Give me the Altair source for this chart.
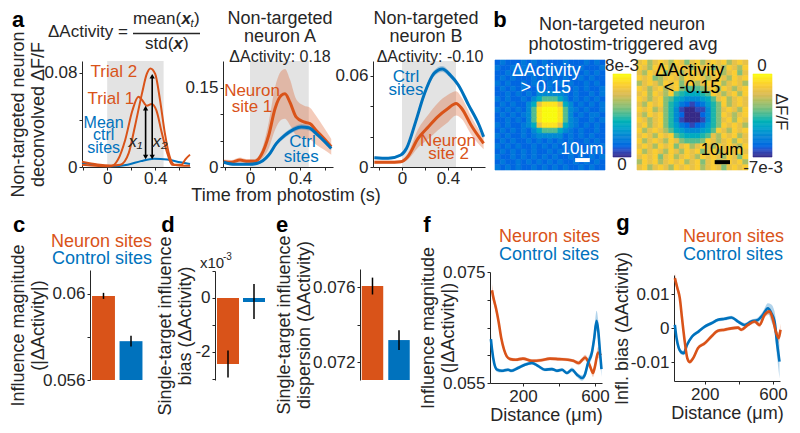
import altair as alt
import pandas as pd

FONT = "Liberation Sans"
ORANGE = "#D95319"
BLUE = "#0072BD"
INK = "#262626"
GREY = "#E3E3E3"
PARULA = ["#352a87", "#0363e1", "#1485d4", "#06a7c6", "#38b99e",
          "#92bf73", "#d9ba56", "#fcce2e", "#f9fb0e"]

# ============================== DATA ==============================
STIM_WINDOW = [0.0, 0.47]

# a (left): example neuron, two trials + mean of control sites
A1_TRIAL2_T = [-0.21, -0.08, 0.03, 0.11, 0.18, 0.23, 0.29, 0.33, 0.36, 0.40, 0.44, 0.48, 0.52, 0.56, 0.62, 0.65, 0.69]
A1_TRIAL2_V = [0.0044, 0.0021, 0.0013, 0.0020, 0.012, 0.034, 0.0625, 0.079, 0.0836, 0.079, 0.057, 0.029, 0.009, 0.002, 0.002, 0.0063, 0.0105]
A1_TRIAL1_T = [-0.21, 0.03, 0.09, 0.15, 0.21, 0.26, 0.29, 0.33, 0.37, 0.41, 0.455, 0.50, 0.54, 0.69]
A1_TRIAL1_V = [0.0020, 0.0006, 0.0063, 0.023, 0.048, 0.0597, 0.057, 0.052, 0.0535, 0.048, 0.029, 0.012, 0.002, 0.001]
A1_CTRL_T = [-0.21, -0.08, 0.03, 0.17, 0.28, 0.39, 0.50, 0.61, 0.69]
A1_CTRL_V = [0.0036, 0.0015, 0.0006, 0.0020, 0.0050, 0.0070, 0.0063, 0.0040, 0.0025]
A1_ARROW_T = [0.32, 0.375]
A1_ARROW_LO = [0.0085, 0.0085]
A1_ARROW_HI = [0.050, 0.077]
A1_ARROW_LABELS = ["x\u2081", "x\u2082"]

# a (middle): neuron A
A2_NEUR_T = [-0.21, -0.15, -0.08, -0.03, 0.04, 0.09, 0.15, 0.20, 0.25, 0.28, 0.32, 0.37, 0.43, 0.48, 0.53, 0.59, 0.65]
A2_NEUR_V = [0.010, 0.009, 0.013, 0.011, 0.011, 0.0225, 0.060, 0.110, 0.135, 0.138, 0.122, 0.094, 0.085, 0.082, 0.069, 0.054, 0.038]
A2_NEUR_E = [0.004, 0.004, 0.005, 0.004, 0.004, 0.008, 0.025, 0.040, 0.046, 0.047, 0.043, 0.034, 0.031, 0.030, 0.027, 0.021, 0.015]
A2_CTRL_T = [-0.21, -0.12, -0.01, 0.06, 0.15, 0.21, 0.28, 0.35, 0.41, 0.47, 0.53, 0.60, 0.65]
A2_CTRL_V = [0.009, 0.005, 0.005, 0.007, 0.0225, 0.044, 0.060, 0.071, 0.0757, 0.074, 0.063, 0.0475, 0.035]
A2_CTRL_E = [0.002, 0.002, 0.002, 0.002, 0.003, 0.004, 0.005, 0.005, 0.005, 0.005, 0.004, 0.004, 0.003]

# a (right): neuron B
A3_CTRL_T = [-0.24, -0.12, -0.01, 0.04, 0.12, 0.19, 0.28, 0.35, 0.42, 0.49, 0.58, 0.67, 0.71]
A3_CTRL_V = [0.0061, 0.0057, 0.0079, 0.0123, 0.030, 0.047, 0.0616, 0.0644, 0.0604, 0.0539, 0.0407, 0.0276, 0.0199]
A3_CTRL_E = [0.0008, 0.0008, 0.0008, 0.0010, 0.0015, 0.0018, 0.0020, 0.0020, 0.0018, 0.0016, 0.0014, 0.0012, 0.0010]
A3_NEUR_T = [-0.24, -0.12, -0.01, 0.05, 0.14, 0.23, 0.31, 0.40, 0.47, 0.52, 0.60, 0.71]
A3_NEUR_V = [0.0031, 0.0031, 0.0035, 0.0068, 0.0188, 0.0265, 0.033, 0.0385, 0.0418, 0.0385, 0.0276, 0.0156]
A3_NEUR_E = [0.0010, 0.0010, 0.0010, 0.0020, 0.0060, 0.0080, 0.0090, 0.0090, 0.0080, 0.0070, 0.0060, 0.0040]

# b: photostim-triggered average images (hex level 0-f of the colour range)
MAP1_RANGE = [0.0, 8e-3]
MAP1_ROWS = [
    "232223232322232223232", "322323222323223232223", "223232322232322323232",
    "232322232323232232322", "323223232232323223232", "232323223232232323223",
    "223232324444432322323", "323223246888642323232", "23232246ceeec64232323",
    "32323248efffe84323223", "23232348efffe84232332", "22323248efffe84322323",
    "32322346ceeec64323232", "232323246888643232232", "323223234444423232322",
    "232322323232323223232", "323232232323232322323", "232323232232323232232",
    "322323232323223232323", "232232323232322323232", "323232232323232232322",
]
MAP2_RANGE = [-7e-3, 0.0]
MAP2_ROWS = [
    "cdacdcadc9cdacdcdacdc", "dcadcdacdcadcd9cadcad", "cadcd9cdacdcadcdacd9c",
    "dcd9acdcadcdcacdcadcd", "acdcadcd9cdacdcdacdca", "dcacdacd98889cdadcacd",
    "cdadcad8766678dcacdad", "dcacd9865444568cdacdc", "cadcd97532123579dacdc",
    "dcdac97410011479cdcad", "cadcd97420002479dcacd", "dcacd97410001479cdadc",
    "cdacd97532123579dcdca", "dacdca865444568dcadcd", "cdcadcd8766678cadcdac",
    "dacdcadc98889dcacdadc", "cdcadcd9cdacdcadcdcad", "dacdcadcadcd9cdacdcdc",
    "cdcd9cdacdcadcdcadc9d", "adcdacdcdacd9cdacdcda", "cdacdcadcdcdacdc9cdcd",
]

# c, d, e: bar summaries
CATS = ["Neuron sites", "Control sites"]
C_MEAN = [0.0599, 0.0578]
C_ERR = [0.00014, 0.00025]
D_MEAN = [-2.45, -0.15]           # x1e-3
D_LO = [-2.95, -0.78]
D_HI = [-1.95, 0.52]
E_MEAN = [0.07605, 0.07317]
E_ERR = [0.00045, 0.00053]

# f: influence magnitude vs distance
F_NEUR_X = [28, 35, 50, 65, 80, 95, 110, 130, 160, 200, 250, 300, 350, 400, 450, 480, 510, 530, 545, 560, 575, 589, 600, 617, 633]
F_NEUR_V = [0.0717, 0.0705, 0.0685, 0.0660, 0.0630, 0.0610, 0.0598, 0.0593, 0.0592, 0.0594, 0.0590, 0.0591, 0.0594, 0.0593, 0.0592, 0.0590, 0.0586, 0.0592, 0.0596, 0.0590, 0.0578, 0.0568, 0.0580, 0.0605, 0.0600]
F_NEUR_E = [0.0012, 0.0010, 0.0008, 0.0006, 0.0005, 0.0004, 0.0003, 0.0003, 0.0003, 0.0003, 0.0003, 0.0003, 0.0003, 0.0003, 0.0003, 0.0003, 0.0004, 0.0004, 0.0005, 0.0005, 0.0006, 0.0007, 0.0008, 0.0010, 0.0012]
F_CTRL_X = [22, 28, 40, 56, 83, 117, 133, 172, 211, 250, 283, 322, 361, 389, 417, 444, 472, 500, 528, 544, 561, 583, 595, 609, 618, 628, 636]
F_CTRL_V = [0.0629, 0.0611, 0.0586, 0.0574, 0.0572, 0.0574, 0.0572, 0.0577, 0.0583, 0.0586, 0.0581, 0.0574, 0.0575, 0.0572, 0.0574, 0.0568, 0.0574, 0.0565, 0.0559, 0.0565, 0.0586, 0.0605, 0.0629, 0.0662, 0.0645, 0.0605, 0.0575]
F_CTRL_E = [0.0012, 0.0010, 0.0006, 0.0004, 0.0003, 0.0003, 0.0003, 0.0003, 0.0003, 0.0003, 0.0003, 0.0003, 0.0003, 0.0003, 0.0003, 0.0003, 0.0004, 0.0004, 0.0005, 0.0006, 0.0008, 0.0010, 0.0014, 0.0018, 0.0018, 0.0016, 0.0014]

# g: influence bias vs distance
G_NEUR_X = [25, 40, 54, 67, 83, 98, 112, 132, 161, 200, 239, 278, 317, 356, 395, 414, 453, 492, 521, 551, 580, 600, 619, 633, 644]
G_NEUR_V = [0.0148, 0.0118, 0.0089, 0.0030, -0.0039, -0.0088, -0.0099, -0.0088, -0.0058, -0.0044, -0.0024, -0.0007, -0.0004, 0.0000, 0.0002, -0.0004, 0.0010, 0.0020, 0.0010, 0.0040, 0.0050, 0.0025, -0.0014, -0.0029, -0.0004]
G_NEUR_E = [0.0015, 0.0012, 0.0010, 0.0008, 0.0007, 0.0006, 0.0006, 0.0005, 0.0005, 0.0005, 0.0005, 0.0005, 0.0005, 0.0005, 0.0005, 0.0005, 0.0006, 0.0006, 0.0007, 0.0008, 0.0010, 0.0012, 0.0014, 0.0016, 0.0018]
G_CTRL_X = [25, 35, 48, 62, 77, 96, 126, 165, 200, 239, 278, 317, 356, 395, 434, 473, 512, 541, 570, 590, 609, 625, 638]
G_CTRL_V = [0.0010, -0.0029, -0.0058, -0.0070, -0.0073, -0.0049, -0.0024, -0.0009, 0.0005, 0.0015, 0.0025, 0.0028, 0.0032, 0.0020, 0.0010, 0.0020, 0.0025, 0.0040, 0.0059, 0.0045, 0.0020, -0.0049, -0.0098]
G_CTRL_E = [0.0012, 0.0010, 0.0008, 0.0007, 0.0006, 0.0005, 0.0005, 0.0005, 0.0005, 0.0005, 0.0005, 0.0005, 0.0005, 0.0005, 0.0006, 0.0006, 0.0007, 0.0010, 0.0015, 0.0025, 0.0030, 0.0040, 0.0050]

# ============================== LAYOUT ==============================
M = 8                     # page margin
W, H = 800 - 2 * M, 433 - 2 * M


def rx(l, r):
    return [l - M, r - M]


def ry(top, bot):
    return [bot - M, top - M]


def qs(dom, rng):
    return alt.Scale(domain=dom, range=rng, nice=False, zero=False)


def lab_expr(shown):
    expr = "''"
    for v, s in shown.items():
        expr = f"abs(datum.value - ({v!r})) < 1e-9 ? '{s}' : ({expr})"
    return expr


AXIS_STYLE = dict(grid=False, domainColor=INK, domainWidth=1, tickColor=INK, tickSize=3,
                  tickWidth=1, labelColor=INK, labelFont=FONT, labelFontSize=17,
                  labelPadding=2, labelFlush=False, labelOverlap=False,
                  titleFont=FONT, titleFontSize=18, titleFontWeight="normal",
                  titleColor=INK)


def left_axis(xpx, values, shown, title=None, title_x=None):
    kw = dict(AXIS_STYLE, orient="left", offset=-(xpx - M), values=values,
              labelExpr=lab_expr(shown), title=title)
    if title_x is not None:
        kw["titleX"] = title_x
    return alt.Axis(**kw)


def bottom_axis(ypx, values, shown, title=None, pad=2):
    return alt.Axis(**dict(AXIS_STYLE, orient="bottom", offset=(ypx - M) - H, values=values,
                           labelExpr=lab_expr(shown), title=title, titlePadding=2,
                           labelPadding=pad))


class Frame:
    """x/y scales (and axes) of one panel; every layer of the panel uses the same ones."""

    def __init__(self, xs, ys, xa=None, ya=None):
        self.xs, self.ys, self.xa, self.ya = xs, ys, xa, ya

    def enc(self, xf, yf):
        return dict(x=alt.X(xf, type="quantitative", scale=self.xs, axis=self.xa),
                    y=alt.Y(yf, type="quantitative", scale=self.ys, axis=self.ya))


def shade(fr, ydom):
    df = pd.DataFrame({"x0": [STIM_WINDOW[0]], "x1": [STIM_WINDOW[1]],
                       "y0": [ydom[0]], "y1": [ydom[1]]})
    return alt.Chart(df).mark_rect(color=GREY).encode(**fr.enc("x0", "y0"), x2="x1", y2="y1")


def band(fr, t, v, e, color, op=0.3):
    df = pd.DataFrame({"t": t, "lo": [a - b for a, b in zip(v, e)],
                       "hi": [a + b for a, b in zip(v, e)]})
    return alt.Chart(df).mark_area(color=color, opacity=op, interpolate="monotone").encode(
        **fr.enc("t", "lo"), y2="hi")


def line(fr, t, v, color, width=2.0):
    df = pd.DataFrame({"t": t, "v": v})
    return alt.Chart(df).mark_line(color=color, strokeWidth=width, interpolate="monotone").encode(
        **fr.enc("t", "v"))


def label(fr, x, y, text, color, size=16, **mk):
    df = pd.DataFrame({"x": [x], "y": [y], "t": [text]})
    return alt.Chart(df).mark_text(color=color, fontSize=size, font=FONT, **mk).encode(
        **fr.enc("x", "y"), text="t:N")


TIME_TICKS = [-0.2, 0.0, 0.2, 0.4, 0.6]
TIME_SHOWN = {0.0: "0", 0.4: "0.4"}

# ---------------- panel a1
a1dom = [0.0, 0.09]
a1 = Frame(qs([-0.21, 0.69], rx(82, 190)), qs(a1dom, ry(61, 167)),
           bottom_axis(167, TIME_TICKS, TIME_SHOWN, pad=0),
           left_axis(82, [0, 0.04, 0.08], {0: "0", 0.08: "0.08"},
                     ["Non-targeted neuron", "deconvolved \u0394F/F"], -55))
arrow_df = pd.DataFrame({"t": A1_ARROW_T, "lo": A1_ARROW_LO, "hi": A1_ARROW_HI})
panel_a1 = alt.layer(
    shade(a1, a1dom),
    line(a1, A1_CTRL_T, A1_CTRL_V, BLUE, 2),
    line(a1, A1_TRIAL1_T, A1_TRIAL1_V, ORANGE, 2),
    line(a1, A1_TRIAL2_T, A1_TRIAL2_V, ORANGE, 2),
    alt.Chart(arrow_df).mark_rule(color="black", strokeWidth=1.6).encode(**a1.enc("t", "lo"), y2="hi"),
    alt.Chart(arrow_df).mark_point(shape="triangle-up", filled=True, color="black", size=28,
                                   opacity=1).encode(**a1.enc("t", "hi")),
    alt.Chart(arrow_df).mark_point(shape="triangle-down", filled=True, color="black", size=28,
                                   opacity=1).encode(**a1.enc("t", "lo")),
    label(a1, 0.055, 0.081, "Trial 2", ORANGE, 17),
    label(a1, 0.03, 0.058, "Trial 1", ORANGE, 17),
    label(a1, -0.03, 0.0375, "Mean", BLUE, 16),
    label(a1, -0.03, 0.027, "ctrl", BLUE, 16),
    label(a1, -0.03, 0.0165, "sites", BLUE, 16),
    label(a1, 0.235, 0.021, A1_ARROW_LABELS[0], INK, 17, fontStyle="italic"),
    label(a1, 0.44, 0.021, A1_ARROW_LABELS[1], INK, 17, fontStyle="italic"),
)

# ---------------- panel a2
a2dom = [0.0, 0.2]
a2 = Frame(qs([-0.216, 0.664], rx(223, 333)), qs(a2dom, ry(61, 167)),
           bottom_axis(167, TIME_TICKS, TIME_SHOWN, pad=0),
           left_axis(223, [0, 0.05, 0.1, 0.15], {0: "0", 0.15: "0.15"}))
panel_a2 = alt.layer(
    shade(a2, a2dom),
    band(a2, A2_NEUR_T, A2_NEUR_V, A2_NEUR_E, ORANGE, 0.3),
    band(a2, A2_CTRL_T, A2_CTRL_V, A2_CTRL_E, BLUE, 0.3),
    line(a2, A2_NEUR_T, A2_NEUR_V, ORANGE, 3),
    line(a2, A2_CTRL_T, A2_CTRL_V, BLUE, 3),
    label(a2, 0.016, 0.143, "Neuron", ORANGE, 17),
    label(a2, 0.016, 0.114, "site 1", ORANGE, 17),
    label(a2, 0.42, 0.047, "Ctrl", BLUE, 17),
    label(a2, 0.41, 0.019, "sites", BLUE, 17),
)

# ---------------- panel a3
a3dom = [0.0, 0.0697]
a3 = Frame(qs([-0.252, 0.722], rx(373, 485)), qs(a3dom, ry(61, 167)),
           bottom_axis(167, TIME_TICKS, TIME_SHOWN, pad=0),
           left_axis(373, [0, 0.02, 0.04, 0.06], {0: "0", 0.06: "0.06"}))
panel_a3 = alt.layer(
    shade(a3, a3dom),
    band(a3, A3_NEUR_T, A3_NEUR_V, A3_NEUR_E, ORANGE, 0.3),
    band(a3, A3_CTRL_T, A3_CTRL_V, A3_CTRL_E, BLUE, 0.3),
    line(a3, A3_NEUR_T, A3_NEUR_V, ORANGE, 3),
    line(a3, A3_CTRL_T, A3_CTRL_V, BLUE, 3),
    label(a3, 0.035, 0.0595, "Ctrl", BLUE, 17),
    label(a3, 0.035, 0.0505, "sites", BLUE, 17),
    label(a3, 0.40, 0.0170, "Neuron", ORANGE, 17),
    label(a3, 0.405, 0.0085, "site 2", ORANGE, 17),
)


# ---------------- panel b: images + colour bars
def grid_df(rows, rng):
    lo, hi = rng
    recs = []
    for r, row in enumerate(rows):
        for c, ch in enumerate(row):
            recs.append({"c0": c, "c1": c + 1, "r0": r, "r1": r + 1,
                         "v": lo + (hi - lo) * int(ch, 16) / 15})
    return pd.DataFrame(recs)


def image_panel(rows, rng, xpx, ypx, txt_color, lines_txt, txt_pos, bar_txt, bar_txt_pos, bar_pos):
    n = len(rows)
    fr = Frame(qs([0, n], rx(*xpx)), qs([0, n], [ypx[0] - M, ypx[1] - M]))
    cs = alt.Scale(domain=rng, range=PARULA)
    img = alt.Chart(grid_df(rows, rng)).mark_rect(strokeWidth=0.6).encode(
        **fr.enc("c0", "r0"), x2="c1", y2="r1",
        color=alt.Color("v:Q", scale=cs, legend=None),
        stroke=alt.Stroke("v:Q", scale=cs, legend=None))
    layers = [img]
    for t, (px, py) in zip(lines_txt, txt_pos):
        layers.append(label(fr, px, py, t, txt_color, 18))
    layers.append(label(fr, bar_txt_pos[0], bar_txt_pos[1], bar_txt, txt_color, 17))
    sb = pd.DataFrame({"x0": [bar_pos[0]], "x1": [bar_pos[1]], "y": [bar_pos[2]]})
    layers.append(alt.Chart(sb).mark_rule(color=txt_color, strokeWidth=4).encode(
        **fr.enc("x0", "y"), x2="x1"))
    return alt.layer(*layers)


def colorbar(rng, xpx, ypx):
    lo, hi = rng
    n = 64
    step = (hi - lo) / n
    df = pd.DataFrame({"v0": [lo + i * step for i in range(n)]})
    df["v1"] = df["v0"] + step
    df["vm"] = df["v0"] + step / 2
    df["x0"] = 0.0
    df["x1"] = 1.0
    fr = Frame(qs([0, 1], rx(*xpx)), qs(rng, ry(*ypx)))
    cs = alt.Scale(domain=rng, range=PARULA)
    return alt.Chart(df).mark_rect(strokeWidth=0.6).encode(
        **fr.enc("x0", "v0"), x2="x1", y2="v1",
        color=alt.Color("vm:Q", scale=cs, legend=None),
        stroke=alt.Stroke("vm:Q", scale=cs, legend=None))


panel_m1 = image_panel(MAP1_ROWS, MAP1_RANGE, (495, 605), (60, 170), "white",
                       ["\u0394Activity", "> 0.15"], [(9.8, 2.1), (9.7, 5.4)],
                       "10\u03bcm", (16.6, 16.9), (15.3, 18.1, 19.1))
panel_m2 = image_panel(MAP2_ROWS, MAP2_RANGE, (637, 748), (60, 170), "black",
                       ["\u0394Activity", "< -0.15"], [(10.0, 2.1), (10.4, 5.4)],
                       "10\u03bcm", (16.1, 17.2), (14.7, 17.6, 19.5))
panel_cb1 = colorbar(MAP1_RANGE, (613, 631), (74, 157))
panel_cb2 = colorbar(MAP2_RANGE, (753, 772), (74, 157))


# ---------------- bar panels c, d, e
def bar_panel(mean, lo, hi, base, xpx, ypx, ydom, pin, pout, yaxis):
    xs = alt.Scale(type="band", domain=CATS, range=rx(*xpx), paddingInner=pin, paddingOuter=pout)
    ys = qs(ydom, ry(*ypx))
    df = pd.DataFrame({"cat": CATS, "m": mean, "lo": lo, "hi": hi, "b": [base] * len(CATS)})
    X = alt.X("cat:N", scale=xs, axis=None)
    bars = alt.Chart(df).mark_bar().encode(
        x=X, y=alt.Y("m:Q", scale=ys, axis=yaxis), y2="b",
        color=alt.Color("cat:N", scale=alt.Scale(domain=CATS, range=[ORANGE, BLUE]), legend=None))
    err = alt.Chart(df).mark_rule(color="black", strokeWidth=1.5).encode(
        x=X, y=alt.Y("lo:Q", scale=ys, axis=yaxis), y2="hi")
    return alt.layer(bars, err)


panel_c = bar_panel(C_MEAN, [m - e for m, e in zip(C_MEAN, C_ERR)], [m + e for m, e in zip(C_MEAN, C_ERR)],
                    0.056, (90, 144.5), (270, 380), [0.056, 0.0611], 0.167, 0.074,
                    left_axis(90, [0.056, 0.058, 0.06], {0.056: "0.056", 0.06: "0.06"},
                              ["Influence magnitude", "(|\u0394Activity|)"], -63))
panel_d = bar_panel(D_MEAN, D_LO, D_HI, 0.0, (215, 267), (271, 380), [-3.04, 1.0], 0.154, 0.077,
                    left_axis(215, [-3, -2, -1, 0, 1], {0: "0", -2: "-2"},
                              ["Single-target influence", "bias (\u0394Activity)"], -41))
panel_e = bar_panel(E_MEAN, [m - e for m, e in zip(E_MEAN, E_ERR)], [m + e for m, e in zip(E_MEAN, E_ERR)],
                    0.07104, (360, 411.5), (269, 380), [0.07104, 0.07696], 0.19, 0.066,
                    left_axis(360, [0.072, 0.074, 0.076], {0.072: "0.072", 0.076: "0.076"},
                              ["Single-target influence", "dispersion (\u0394Activity)"], -67))

# ---------------- panel f
DIST_TICKS = [200, 400, 600]
DIST_SHOWN = {200: "200", 600: "600"}
ff = Frame(qs([17, 639], rx(490, 602)), qs([0.055, 0.075], ry(272, 383)),
           bottom_axis(383, DIST_TICKS, DIST_SHOWN, "Distance (\u03bcm)"),
           left_axis(490, [0.055, 0.06, 0.065, 0.07, 0.075], {0.055: "0.055", 0.075: "0.075"},
                     ["Influence magnitude", "(|\u0394Activity|)"], -53))
panel_f = alt.layer(
    band(ff, F_NEUR_X, F_NEUR_V, F_NEUR_E, ORANGE, 0.3),
    band(ff, F_CTRL_X, F_CTRL_V, F_CTRL_E, BLUE, 0.3),
    line(ff, F_NEUR_X, F_NEUR_V, ORANGE, 2.6),
    line(ff, F_CTRL_X, F_CTRL_V, BLUE, 2.6),
)

# ---------------- panel g
gf = Frame(qs([20, 641], rx(674, 780)), qs([-0.0155, 0.0157], ry(275, 381)),
           bottom_axis(381, DIST_TICKS, DIST_SHOWN, "Distance (\u03bcm)"),
           left_axis(674, [-0.01, 0, 0.01], {-0.01: "-0.01", 0: "0", 0.01: "0.01"},
                     "Infl. bias (\u0394Activity)", -43))
panel_g = alt.layer(
    band(gf, G_NEUR_X, G_NEUR_V, G_NEUR_E, ORANGE, 0.3),
    band(gf, G_CTRL_X, G_CTRL_V, G_CTRL_E, BLUE, 0.3),
    line(gf, G_CTRL_X, G_CTRL_V, BLUE, 2.6),
    line(gf, G_NEUR_X, G_NEUR_V, ORANGE, 2.6),
)

# ---------------- figure-level annotations (page coordinates)
PAGE = Frame(qs([0, 800], [-M, 800 - M]), qs([0, 433], [-M, 433 - M]))


def ftext(x, y, text, size=18, color=INK, weight="normal", align="center", style="normal", angle=0):
    df = pd.DataFrame({"x": [x], "y": [y], "t": [text]})
    mk = dict(fontSize=size, color=color, fontWeight=weight, align=align, fontStyle=style,
              baseline="middle", font=FONT)
    if angle:
        mk["angle"] = angle
    return alt.Chart(df).mark_text(**mk).encode(**PAGE.enc("x", "y"), text="t:N")


frac = pd.DataFrame({"x0": [133], "x1": [200], "y": [33.5]})
fig_layer = alt.layer(
    ftext(18, 20, "a", 22, "black", "bold"),
    ftext(500, 20, "b", 22, "black", "bold"),
    ftext(19, 225, "c", 22, "black", "bold"),
    ftext(168, 225, "d", 22, "black", "bold"),
    ftext(282, 225, "e", 22, "black", "bold"),
    ftext(427, 225, "f", 22, "black", "bold"),
    ftext(623, 223, "g", 22, "black", "bold"),
    # formula
    ftext(48, 32, "\u0394Activity =", 17, align="left"),
    ftext(133, 19, "mean(", 17, align="left"),
    ftext(181.5, 19, "x", 17, weight="bold", style="italic", align="left"),
    ftext(190.5, 24, "t", 11, style="italic", align="left"),
    ftext(194, 19, ")", 17, align="left"),
    ftext(145, 44, "std(", 17, align="left"),
    ftext(173.5, 44, "x", 17, weight="bold", style="italic", align="left"),
    ftext(183, 44, ")", 17, align="left"),
    alt.Chart(frac).mark_rule(color=INK, strokeWidth=1.5).encode(**PAGE.enc("x0", "y"), x2="x1"),
    # titles
    ftext(280, 19, "Non-targeted"), ftext(280, 37, "neuron A"),
    ftext(280, 57, "\u0394Activity: 0.18", 16),
    ftext(426, 19, "Non-targeted"), ftext(426, 37, "neuron B"),
    ftext(430, 57, "\u0394Activity: -0.10", 16),
    ftext(622, 25, "Non-targeted neuron"), ftext(623, 45, "photostim-triggered avg"),
    ftext(286, 196, "Time from photostim (s)"),
    # colour-bar labels
    ftext(622, 66, "8e-3", 17), ftext(622, 165, "0", 17),
    ftext(762, 66, "0", 17), ftext(763, 168, "-7e-3", 17),
    ftext(781, 112, "\u0394F/F", 17, angle=90),
    # legends
    ftext(152, 242, "Neuron sites", 18, ORANGE, align="right"),
    ftext(152, 259, "Control sites", 18, BLUE, align="right"),
    ftext(499, 237, "Neuron sites", 18, ORANGE, align="left"),
    ftext(499, 255, "Control sites", 18, BLUE, align="left"),
    ftext(683, 237, "Neuron sites", 18, ORANGE, align="left"),
    ftext(683, 255, "Control sites", 18, BLUE, align="left"),
    # x10^-3
    ftext(200, 263, "x10", 15, align="left"),
    ftext(223, 257, "-3", 10, align="left"),
)

chart = alt.layer(
    panel_a1, panel_a2, panel_a3, panel_m1, panel_m2, panel_cb1, panel_cb2,
    panel_c, panel_d, panel_e, panel_f, panel_g, fig_layer,
).resolve_scale(
    x="independent", y="independent", color="independent", stroke="independent"
).properties(
    width=W, height=H, padding=0, autosize=alt.AutoSizeParams(type="none")
).configure(
    font=FONT, background="white"
).configure_view(stroke="transparent")

chart.save("out.html", embed_options={"renderer": "svg", "actions": False})
